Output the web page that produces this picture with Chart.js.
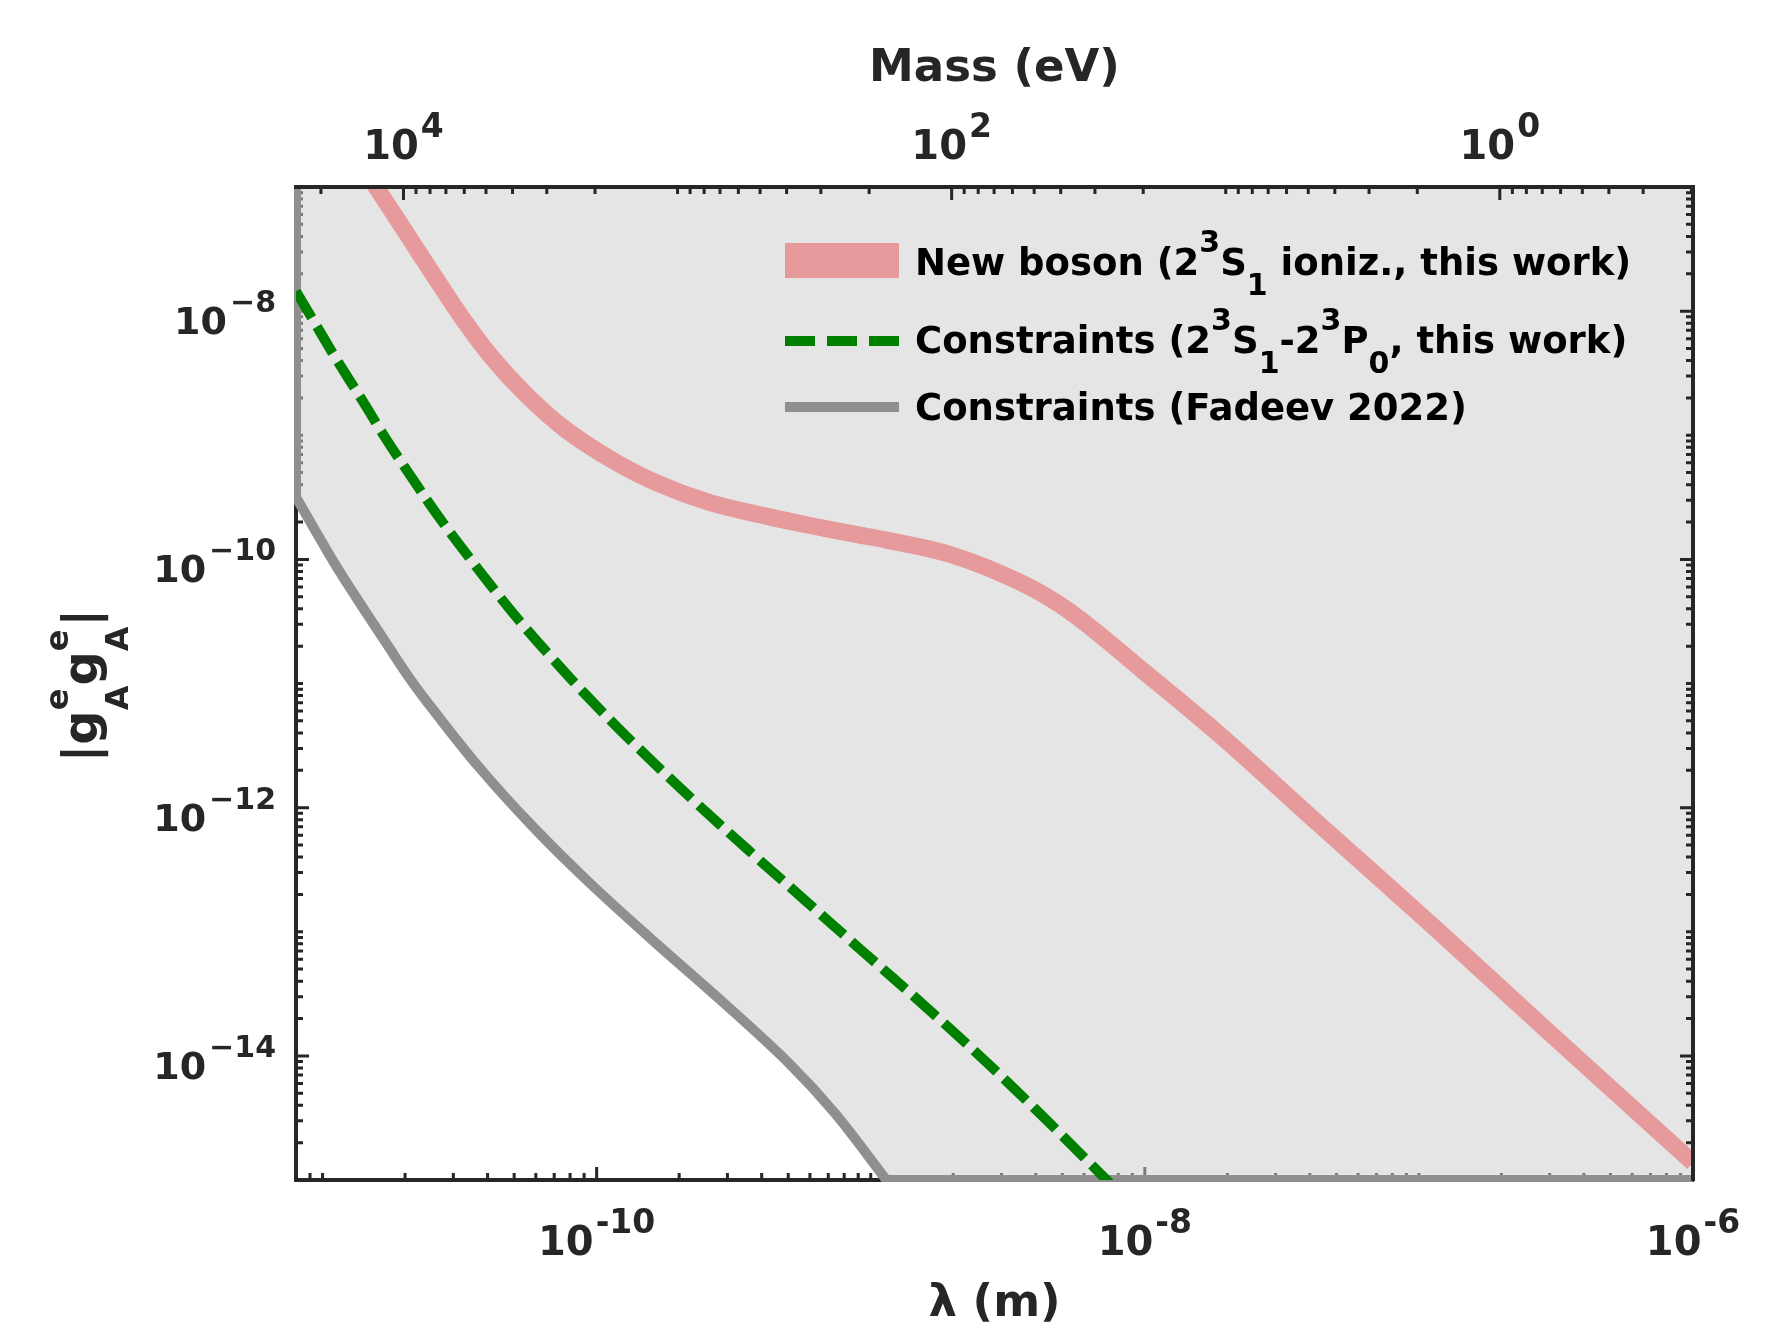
<!DOCTYPE html>
<html>
<head>
<meta charset="utf-8">
<script src="https://cdn.jsdelivr.net/npm/chart.js@4.4.1/dist/chart.umd.min.js"></script>
<style>
  html, body { margin: 0; padding: 0; background: #ffffff; }
  #wrap { width: 1782px; height: 1330px; position: relative; }
</style>
</head>
<body>
<div id="wrap"><canvas id="chart"></canvas></div>
<script>
// ---------------- data ----------------
const LAMBDA_RANGE = [8e-12, 1e-6];      // λ (m) axis limits
const COUPLING_RANGE = [1e-15, 1e-7];    // |gA gA| axis limits
const HBARC_EV_M = 1.97327e-7;           // mass (eV) = ħc / λ

// New boson (2^3S_1 ionization, this work)
const BOSON_LAMBDA = [1.49e-11, 1.59e-11, 1.99e-11, 2.49e-11, 3.22e-11, 4.17e-11, 5.57e-11, 7.67e-11,
  1.13e-10, 1.66e-10, 2.61e-10, 4.23e-10, 5.51e-10, 6.84e-10, 8.93e-10, 1.14e-9, 1.94e-9, 3.47e-9,
  5.36e-9, 1.00e-8, 1.89e-8, 4.30e-8, 1.13e-7, 2.98e-7, 1.0e-6];
const BOSON_G = [1.175e-7, 9.55e-8, 4.47e-8, 2.09e-8, 8.91e-9, 4.17e-9, 2.09e-9, 1.12e-9,
  6.38e-10, 4.12e-10, 2.85e-10, 2.21e-10, 1.95e-10, 1.77e-10, 1.58e-10, 1.43e-10, 1.10e-10, 6.61e-11,
  3.76e-11, 1.23e-11, 3.80e-12, 7.41e-13, 1.10e-13, 1.55e-14, 1.38e-15];

// Constraints (2^3S_1 - 2^3P_0, this work)
const CONSTR_LAMBDA = [8.0e-12, 9.48e-12, 1.11e-11, 1.40e-11, 1.69e-11, 2.12e-11, 2.65e-11, 3.33e-11,
  4.17e-11, 5.22e-11, 6.64e-11, 9.31e-11, 1.37e-10, 2.22e-10, 3.59e-10, 5.82e-10, 9.44e-10, 1.53e-9,
  2.48e-9, 3.98e-9, 7.52e-9];
const CONSTR_G = [1.445e-8, 7.69e-9, 4.27e-9, 1.89e-9, 9.62e-10, 4.52e-10, 2.21e-10, 1.125e-10,
  5.92e-11, 3.21e-11, 1.746e-11, 7.74e-12, 3.26e-12, 1.18e-12, 4.51e-13, 1.754e-13, 6.82e-14, 2.67e-14,
  1.014e-14, 3.74e-15, 9.25e-16];

// Constraints (Fadeev 2022)
const FADEEV_LAMBDA = [8.0e-12, 9.20e-12, 1.11e-11, 1.33e-11, 1.73e-11, 2.11e-11, 2.53e-11, 3.72e-11,
  5.74e-11, 9.31e-11, 1.58e-10, 2.82e-10, 5.04e-10, 7.41e-10, 1.14e-9];
const FADEEV_G = [3.17e-10, 1.86e-10, 9.16e-11, 4.89e-11, 2.02e-11, 1.05e-11, 6.15e-12, 2.12e-12,
  7.35e-13, 2.54e-13, 8.75e-14, 2.84e-14, 8.69e-15, 3.44e-15, 1.0e-15];

// labelled tick exponents
const X_TICK_EXP = [-10, -8, -6];
const Y_TICK_EXP = [-8, -10, -12, -14];
const MASS_TICK_EXP = [4, 2, 0];

// axis titles and legend entries (rich text: [text, kind])
const X_TITLE = 'λ (m)';
const TOP_TITLE = 'Mass (eV)';
const Y_TITLE = [['|', ''], ['g', ''], [['e', 'A'], 'stack'], ['g', ''], [['e', 'A'], 'stack'], ['|', '']];
const LEGEND_ROWS = [
  [['New boson (2', ''], ['3', 'sup'], ['S', ''], ['1', 'sub'], [' ioniz., this work)', '']],
  [['Constraints (2', ''], ['3', 'sup'], ['S', ''], ['1', 'sub'], ['-2', ''], ['3', 'sup'], ['P', ''], ['0', 'sub'], [', this work)', '']],
  [['Constraints (Fadeev 2022)', '']]
];

// ---------------- styling ----------------
const FONT = "'DejaVu Sans', 'Liberation Sans', sans-serif";
const INK = '#262626';
const PINK = '#e79a9c';
const GREEN = '#008000';
const GRAY = '#8f8f8f';
const SHADE = 'rgba(204,204,204,0.5)';
const AXIS_W = 4, TICK_W = 3, MAJOR_LEN = 13, MINOR_LEN = 7;

const pts = (xs, ys) => xs.map((x, i) => ({ x: x, y: ys[i] }));
const bosonPts = pts(BOSON_LAMBDA, BOSON_G);
const constrPts = pts(CONSTR_LAMBDA, CONSTR_G);
const fadeevCurve = pts(FADEEV_LAMBDA, FADEEV_G);
// excluded (shaded) region: left edge -> Fadeev curve -> bottom edge
const first = fadeevCurve[0], last = fadeevCurve[fadeevCurve.length - 1];
const fadeevRegion = [{ x: LAMBDA_RANGE[0], y: COUPLING_RANGE[1] }, { x: first.x, y: first.y }]
  .concat(fadeevCurve)
  .concat([{ x: last.x, y: last.y }, { x: LAMBDA_RANGE[1], y: COUPLING_RANGE[0] }]);

function decadeTicks(min, max, majorExps) {
  const major = majorExps.map(e => Math.pow(10, e));
  const minor = [];
  for (let n = Math.floor(Math.log10(min)); n <= Math.ceil(Math.log10(max)); n++) {
    for (let k = 1; k < 10; k++) {
      const v = k * Math.pow(10, n);
      if (v <= min * 1.0001 || v >= max * 0.9999) continue;
      if (k === 1 && majorExps.includes(n)) continue;
      minor.push(v);
    }
  }
  return { major, minor };
}

function drawTicks(ctx, ca, side, scale, values, len) {
  ctx.beginPath();
  for (const v of values) {
    const p = scale.getPixelForValue(v);
    if (side === 'bottom') { ctx.moveTo(p, ca.bottom); ctx.lineTo(p, ca.bottom - len); }
    else if (side === 'top') { ctx.moveTo(p, ca.top); ctx.lineTo(p, ca.top + len); }
    else if (side === 'left') { ctx.moveTo(ca.left, p); ctx.lineTo(ca.left + len, p); }
    else { ctx.moveTo(ca.right, p); ctx.lineTo(ca.right - len, p); }
  }
  ctx.stroke();
}

function drawSide(chart, side, scale, majorExps) {
  const ctx = chart.ctx, ca = chart.chartArea;
  const t = decadeTicks(scale.min, scale.max, majorExps);
  ctx.save();
  ctx.strokeStyle = INK; ctx.lineWidth = TICK_W; ctx.lineCap = 'butt'; ctx.setLineDash([]);
  drawTicks(ctx, ca, side, scale, t.minor, MINOR_LEN);
  drawTicks(ctx, ca, side, scale, t.major, MAJOR_LEN);
  ctx.restore();
}

function drawPower(ctx, x, baseY, exp, o) {
  const expStr = (exp < 0 ? o.minus : '') + Math.abs(exp);
  ctx.font = 'bold ' + o.base + 'px ' + FONT;
  const wb = ctx.measureText('10').width;
  ctx.font = 'bold ' + o.exp + 'px ' + FONT;
  const we = ctx.measureText(expStr).width;
  const total = wb + o.gap + we;
  const x0 = o.align === 'right' ? x - total : x - total / 2;
  ctx.textAlign = 'left'; ctx.textBaseline = 'alphabetic';
  ctx.font = 'bold ' + o.base + 'px ' + FONT;
  ctx.fillText('10', x0, baseY);
  ctx.font = 'bold ' + o.exp + 'px ' + FONT;
  ctx.fillText(expStr, x0 + wb + o.gap, baseY - o.raise);
}

function richWidth(ctx, parts, s) {
  let w = 0;
  for (const [txt, kind] of parts) {
    if (kind === 'stack') {
      ctx.font = 'bold ' + s.script + 'px ' + FONT;
      w += Math.max(ctx.measureText(txt[0]).width, ctx.measureText(txt[1]).width);
    } else {
      ctx.font = 'bold ' + (kind ? s.script : s.main) + 'px ' + FONT;
      w += ctx.measureText(txt).width;
    }
  }
  return w;
}

function drawRich(ctx, x, y, parts, s) {
  ctx.textAlign = 'left'; ctx.textBaseline = 'alphabetic';
  for (const [txt, kind] of parts) {
    if (kind === 'stack') {
      ctx.font = 'bold ' + s.script + 'px ' + FONT;
      ctx.fillText(txt[0], x, y - s.up);
      ctx.fillText(txt[1], x, y + s.down);
      x += Math.max(ctx.measureText(txt[0]).width, ctx.measureText(txt[1]).width);
    } else {
      ctx.font = 'bold ' + (kind ? s.script : s.main) + 'px ' + FONT;
      const dy = kind === 'sup' ? -s.up : (kind === 'sub' ? s.down : 0);
      ctx.fillText(txt, x, y + dy);
      x += ctx.measureText(txt).width;
    }
  }
}

const matlabAxes = {
  id: 'matlabAxes',
  beforeDatasetsDraw(chart) {
    // ticks of the main axes sit under the translucent shaded region
    drawSide(chart, 'bottom', chart.scales.x, X_TICK_EXP);
    drawSide(chart, 'left', chart.scales.y, Y_TICK_EXP);
  },
  afterDatasetsDraw(chart) {
    drawSide(chart, 'top', chart.scales.x2, MASS_TICK_EXP);
    drawSide(chart, 'right', chart.scales.y2, Y_TICK_EXP);
  },
  afterDraw(chart) {
    const ctx = chart.ctx, ca = chart.chartArea, s = chart.scales;
    ctx.save();
    ctx.fillStyle = INK;
    // tick labels
    for (const e of X_TICK_EXP) {
      drawPower(ctx, s.x.getPixelForValue(Math.pow(10, e)), ca.bottom + 75, e,
        { base: 40, exp: 33, raise: 22, gap: 2, align: 'center', minus: '-' });
    }
    for (const e of MASS_TICK_EXP) {
      drawPower(ctx, s.x2.getPixelForValue(Math.pow(10, e)), ca.top - 28, e,
        { base: 40, exp: 33, raise: 22, gap: 2, align: 'center', minus: '-' });
    }
    for (const e of Y_TICK_EXP) {
      drawPower(ctx, ca.left - 20, s.y.getPixelForValue(Math.pow(10, e)) + 23, e,
        { base: 38, exp: 30, raise: 22, gap: 3, align: 'right', minus: '\u2212' });
    }
    // y-axis title (rotated)
    const yt = { main: 48, script: 32, up: 29, down: 31 };
    ctx.save();
    ctx.translate(97, (ca.top + ca.bottom) / 2 + 2);
    ctx.rotate(-Math.PI / 2);
    drawRich(ctx, -richWidth(ctx, Y_TITLE, yt) / 2, 0, Y_TITLE, yt);
    ctx.restore();

    // legend
    const symX = ca.left + 489, symW = 114, textX = ca.left + 619;
    const rows = [ca.top + 88, ca.top + 166, ca.top + 233];
    ctx.fillStyle = PINK;
    ctx.fillRect(symX, ca.top + 56, symW, 35);
    ctx.lineCap = 'butt';
    ctx.strokeStyle = GREEN; ctx.lineWidth = 10; ctx.setLineDash([30, 12]);
    ctx.beginPath(); ctx.moveTo(symX, ca.top + 154); ctx.lineTo(symX + symW, ca.top + 154); ctx.stroke();
    ctx.strokeStyle = GRAY; ctx.setLineDash([]);
    ctx.beginPath(); ctx.moveTo(symX, ca.top + 220); ctx.lineTo(symX + symW, ca.top + 220); ctx.stroke();
    ctx.fillStyle = '#000000';
    const lt = { main: 37, script: 30, up: 23, down: 20 };
    LEGEND_ROWS.forEach((row, i) => drawRich(ctx, textX, rows[i], row, lt));
    ctx.restore();
  }
};

const titleFont = { family: FONT, weight: 'bold', size: 45, lineHeight: 1 };
const hidden = { display: false };

new Chart(document.getElementById('chart'), {
  type: 'line',
  data: {
    datasets: [
      { label: 'New boson', data: bosonPts, borderColor: PINK, borderWidth: 17, tension: 0.35,
        capBezierPoints: false, pointRadius: 0, fill: false, order: 0 },
      { label: 'Constraints (this work)', data: constrPts, borderColor: GREEN, borderWidth: 10,
        borderDash: [31, 10], tension: 0.35, pointRadius: 0, fill: false, order: 1 },
      { label: 'Constraints (Fadeev 2022)', data: fadeevRegion, borderColor: GRAY, borderWidth: 10,
        tension: 0.35, pointRadius: 0, fill: 'end', backgroundColor: SHADE,
        clip: { left: 2, top: 0, right: 0, bottom: 2 }, order: 2 }
    ]
  },
  options: {
    responsive: true, maintainAspectRatio: false, animation: false, devicePixelRatio: 1,
    layout: { padding: 0 },
    plugins: { legend: hidden, tooltip: { enabled: false } },
    scales: {
      x: { type: 'logarithmic', position: 'bottom', min: LAMBDA_RANGE[0], max: LAMBDA_RANGE[1], bounds: 'data',
        grid: hidden, ticks: hidden, border: { display: true, color: INK, width: AXIS_W },
        title: { display: true, text: X_TITLE, color: INK, font: titleFont, padding: { top: 0, bottom: 3 } },
        afterFit: sc => { sc.height = 150; } },
      x2: { type: 'logarithmic', position: 'top', reverse: true,
        min: HBARC_EV_M / LAMBDA_RANGE[1], max: HBARC_EV_M / LAMBDA_RANGE[0], bounds: 'data',
        grid: hidden, ticks: hidden, border: { display: true, color: INK, width: AXIS_W, z: 1 },
        title: { display: true, text: TOP_TITLE, color: INK, font: titleFont, padding: { top: 47, bottom: 0 } },
        afterFit: sc => { sc.height = 187; } },
      y: { type: 'logarithmic', position: 'left', min: COUPLING_RANGE[0], max: COUPLING_RANGE[1], bounds: 'data',
        grid: hidden, ticks: hidden, border: { display: true, color: INK, width: AXIS_W },
        afterFit: sc => { sc.width = 296; } },
      y2: { type: 'logarithmic', position: 'right', min: COUPLING_RANGE[0], max: COUPLING_RANGE[1], bounds: 'data',
        grid: hidden, ticks: hidden, border: { display: true, color: INK, width: AXIS_W, z: 1 },
        afterFit: sc => { sc.width = 89; } }
    }
  },
  plugins: [matlabAxes]
});
</script>
</body>
</html>
